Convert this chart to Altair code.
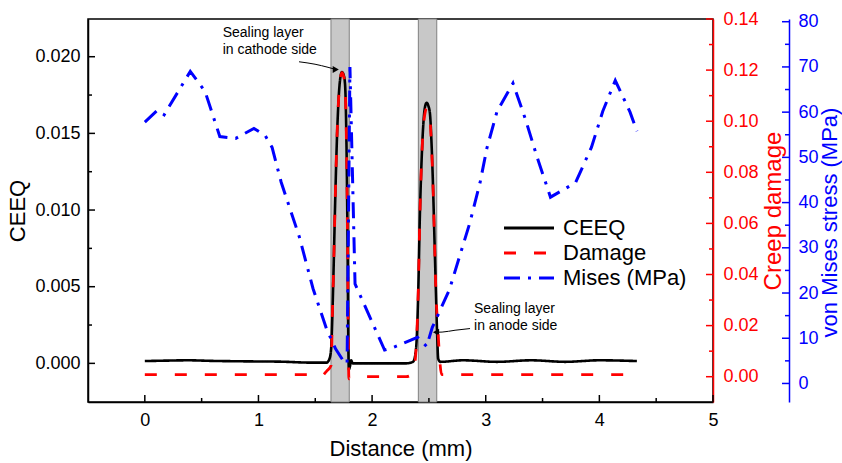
import altair as alt
import pandas as pd

FONT = "Liberation Sans"
W, H = 625, 383          # plot area
MISES_OFFSET = 76        # second right axis offset

# ---------------- data ----------------
series_names = ["CEEQ", "Damage", "Mises (MPa)"]
series_colors = ["#000000", "#ff0000", "#0000ff"]
series_dashes = [[1, 0], [12, 18], [16, 8, 3, 8]]

# CEEQ (left axis) : (distance mm, value)
ceeq_points = [
    (0.0, 0.00015), (0.2, 0.00018), (0.38, 0.0002), (0.6, 0.00016), (0.9, 0.00013),
    (1.2, 0.00011), (1.45, 0.00005), (1.60, 0.00005), (1.625, 0.0003), (1.64, 0.001),
    (1.65, 0.003), (1.66, 0.0058), (1.675, 0.0105), (1.69, 0.0145), (1.705, 0.0172),
    (1.72, 0.0186), (1.735, 0.0190), (1.75, 0.0188), (1.762, 0.0182), (1.772, 0.0155),
    (1.78, 0.0110), (1.786, 0.0060), (1.791, 0.0012), (1.796, -0.0004), (1.805, -0.0002),
    (1.815, 0.0002), (1.83, 0.0), (1.9, 0.0), (2.1, 0.0), (2.3, 0.0),
    (2.36, 0.0001), (2.385, 0.0008), (2.406, 0.0046), (2.42, 0.0095), (2.436, 0.0133),
    (2.45, 0.0155), (2.465, 0.0167), (2.48, 0.0170), (2.495, 0.0168), (2.509, 0.0163),
    (2.525, 0.0140), (2.538, 0.0111), (2.55, 0.0078), (2.562, 0.0046), (2.572, 0.0020),
    (2.582, 0.0003), (2.60, 0.0001), (2.8, 0.0002), (3.1, 0.0001), (3.4, 0.0002),
    (3.7, 0.0001), (4.0, 0.0002), (4.33, 0.00015),
]

# Creep damage (first right axis)
damage_points = [
    (0.0, 0.0008), (1.50, 0.0008), (1.552, 0.0002), (1.60, 0.0022), (1.64, 0.0045),
    (1.65, 0.0235), (1.66, 0.040), (1.675, 0.0685), (1.69, 0.0925), (1.705, 0.1085),
    (1.72, 0.1165), (1.735, 0.119), (1.75, 0.1175), (1.762, 0.1135), (1.772, 0.098),
    (1.78, 0.0715), (1.786, 0.0415), (1.791, 0.0125), (1.796, -0.0008), (1.81, -0.0005),
    (1.85, 0.0), (2.30, 0.0), (2.36, 0.0012), (2.385, 0.0095), (2.406, 0.033),
    (2.42, 0.062), (2.436, 0.085), (2.45, 0.097), (2.465, 0.103), (2.48, 0.105),
    (2.495, 0.1045), (2.509, 0.101), (2.525, 0.088), (2.538, 0.072), (2.55, 0.052),
    (2.562, 0.033), (2.58, 0.018), (2.597, 0.0055), (2.612, 0.0008), (4.33, 0.0008),
]

# von Mises stress (second right axis)
mises_points = [
    (0.0, 57.8), (0.11, 60.4), (0.17, 59.4), (0.40, 69.0), (0.53, 64.6),
    (0.66, 54.6), (0.80, 54.2), (0.96, 56.4), (1.06, 54.8), (1.12, 52.2),
    (1.20, 44.5), (1.36, 32.4), (1.48, 21.0), (1.60, 12.0), (1.68, 7.6),
    (1.765, 4.3), (1.78, 4.6), (1.805, 70.0), (1.85, 22.0), (2.11, 7.4),
    (2.18, 7.9), (2.40, 10.2), (2.48, 8.2), (2.53, 12.4), (2.68, 20.7),
    (2.86, 35.5), (2.95, 44.4), (3.01, 52.0), (3.10, 60.2), (3.24, 66.4),
    (3.35, 58.4), (3.45, 50.2), (3.57, 41.2), (3.79, 44.4), (3.93, 52.2),
    (4.03, 60.2), (4.14, 67.0), (4.27, 60.0), (4.33, 55.8),
]

# sealing layers (grey bands)
band_start = [1.638, 2.407]
band_end = [1.799, 2.569]

# annotations (distance, CEEQ units)
note_text = ["Sealing layer\nin cathode side", "Sealing layer\nin anode side"]
note_x = [0.685, 2.897]
note_y = [0.0220, 0.0040]

arrow_group = ["c", "c", "c", "c", "a", "a", "a", "a"]
arrow_x = [1.357, 1.498, 1.612, 1.68, 2.862, 2.730, 2.616, 2.563]
arrow_y = [0.01967, 0.01951, 0.01931, 0.01917, 0.00227, 0.00216, 0.00204, 0.00203]
head_right_x, head_right_y = [1.68], [0.01917]
head_left_x, head_left_y = [2.563], [0.00203]

# axis ticks (major carry labels, minor are short inward ticks)
x_major = [0, 1, 2, 3, 4, 5]
x_minor = [0.5, 1.5, 2.5, 3.5, 4.5]
ceeq_major = [0.0, 0.005, 0.010, 0.015, 0.020]
ceeq_minor = [0.0025, 0.0075, 0.0125, 0.0175]
damage_major = [0.0, 0.02, 0.04, 0.06, 0.08, 0.10, 0.12, 0.14]
damage_minor = [0.01, 0.03, 0.05, 0.07, 0.09, 0.11, 0.13]
mises_major = [0, 10, 20, 30, 40, 50, 60, 70, 80]
mises_minor = [5, 15, 25, 35, 45, 55, 65, 75]

MAJOR, MINOR = 7, 4

# ---------------- frames ----------------
def series_df(points, name):
    d = pd.DataFrame(points, columns=["x", "y"])
    d["series"] = name
    d["o"] = range(len(d))
    return d

ceeq_df = series_df(ceeq_points, "CEEQ")
damage_df = series_df(damage_points, "Damage")
mises_df = series_df(mises_points, "Mises (MPa)")
band_df = pd.DataFrame({"x0": band_start, "x1": band_end})
note_df = pd.DataFrame({"x": note_x, "y": note_y, "t": note_text})
arrow_df = pd.DataFrame({"x": arrow_x, "y": arrow_y, "g": arrow_group, "o": range(len(arrow_x))})
head_r_df = pd.DataFrame({"x": head_right_x, "y": head_right_y})
head_l_df = pd.DataFrame({"x": head_left_x, "y": head_left_y})

# ---------------- encodings ----------------
common_axis = dict(
    labelFont=FONT, titleFont=FONT, labelFontSize=18,
    titleFontWeight="normal", grid=False, labelOverlap=False, labelFlush=False,
    domainWidth=1.5, ticks=False, tickSize=0,
)

x_scale = alt.Scale(domain=[-0.5, 5], nice=False, zero=False)
x_axis = alt.Axis(
    values=x_major, format="d", labelPadding=9, titlePadding=9, titleFontSize=22,
    domainColor="black", labelColor="black", titleColor="black", **common_axis,
)


def X(field):
    return alt.X(f"{field}:Q", scale=x_scale, axis=x_axis, title="Distance (mm)")


y_ceeq = alt.Y(
    "y:Q", title="CEEQ",
    scale=alt.Scale(domain=[-0.00252, 0.02246], nice=False, zero=False),
    axis=alt.Axis(
        orient="left", values=ceeq_major, format=".3f", labelPadding=8, titlePadding=5,
        titleFontSize=22, domainColor="black", labelColor="black", titleColor="black",
        **common_axis,
    ),
)

y_damage = alt.Y(
    "y:Q", title="Creep damage",
    scale=alt.Scale(domain=[-0.0099, 0.14], nice=False, zero=False),
    axis=alt.Axis(
        orient="right", values=damage_major, format=".2f", labelPadding=10, titlePadding=3,
        titleFontSize=24, titleAngle=270, titleBaseline="top",
        domainColor="#ff0000", labelColor="#ff0000", titleColor="#ff0000", **common_axis,
    ),
)

y_mises = alt.Y(
    "y:Q", title="von Mises stress (MPa)",
    scale=alt.Scale(domain=[-4.1, 80.6], nice=False, zero=False),
    axis=alt.Axis(
        orient="right", offset=MISES_OFFSET, values=mises_major, format="d",
        labelPadding=9, titlePadding=1, titleFontSize=22, titleAngle=270, titleBaseline="top",
        titleY=203,
        domainColor="#0000ff", labelColor="#0000ff", titleColor="#0000ff", **common_axis,
    ),
)

legend = alt.Legend(
    title=None, orient="none", legendX=427, legendY=195, padding=0,
    labelFont=FONT, labelFontSize=22, labelColor="black",
    symbolType="M-2,0L2,0", symbolSize=625, symbolStrokeWidth=3,
    labelOffset=20, rowPadding=0,
)
color = alt.Color("series:N", scale=alt.Scale(domain=series_names, range=series_colors), legend=legend)
dash = alt.StrokeDash("series:N", scale=alt.Scale(domain=series_names, range=series_dashes), legend=legend)


def y_ticks(values, y_enc, x_edge, length, col, inward_sign):
    df = pd.DataFrame({"y": values})
    return alt.Chart(df).mark_rule(color=col, strokeWidth=1.5).encode(
        y=y_enc, x=alt.value(x_edge), x2=alt.value(x_edge + inward_sign * length)
    )


def x_ticks(values, length):
    df = pd.DataFrame({"x": values})
    return alt.Chart(df).mark_rule(color="black", strokeWidth=1.5).encode(
        x=X("x"), y=alt.value(H), y2=alt.value(H - length)
    )


# ---------------- layers ----------------
bands = alt.Chart(band_df).mark_rect(fill="#c8c8c8", stroke="#808080", strokeWidth=1).encode(
    x=X("x0"), x2="x1:Q"
)

ceeq_line = alt.Chart(ceeq_df).mark_line(strokeWidth=2.6, interpolate="monotone").encode(
    x=X("x"), y=y_ceeq, color=color, strokeDash=dash, order="o:Q"
)
notes = alt.Chart(note_df).mark_text(
    align="left", baseline="top", fontSize=14, lineBreak="\n", lineHeight=16.5,
    font=FONT, color="black",
).encode(x=X("x"), y=y_ceeq, text="t:N")
arrows = alt.Chart(arrow_df).mark_line(color="black", strokeWidth=1, interpolate="monotone").encode(
    x=X("x"), y=y_ceeq, detail="g:N", order="o:Q"
)
head_r = alt.Chart(head_r_df).mark_point(shape="triangle-right", filled=True, size=50, color="black", opacity=1).encode(
    x=X("x"), y=y_ceeq
)
head_l = alt.Chart(head_l_df).mark_point(shape="triangle-left", filled=True, size=50, color="black", opacity=1).encode(
    x=X("x"), y=y_ceeq
)
ceeq_group = alt.layer(
    ceeq_line,
    y_ticks(ceeq_major, y_ceeq, 0, MAJOR, "black", 1),
    y_ticks(ceeq_minor, y_ceeq, 0, MINOR, "black", 1),
    arrows, head_r, head_l, notes,
)

damage_line = alt.Chart(damage_df).mark_line(strokeWidth=2.8, interpolate="monotone").encode(
    x=X("x"), y=y_damage, color=color, strokeDash=dash, order="o:Q"
)
damage_group = alt.layer(
    damage_line,
    y_ticks(damage_major, y_damage, W, MAJOR, "#ff0000", -1),
    y_ticks(damage_minor, y_damage, W, MINOR, "#ff0000", -1),
)

mises_line = alt.Chart(mises_df).mark_line(strokeWidth=3).encode(
    x=X("x"), y=y_mises, color=color, strokeDash=dash, order="o:Q"
)
mises_group = alt.layer(
    mises_line,
    y_ticks(mises_major, y_mises, W + MISES_OFFSET, MAJOR, "#0000ff", -1),
    y_ticks(mises_minor, y_mises, W + MISES_OFFSET, MINOR, "#0000ff", -1),
)

chart = (
    alt.layer(bands, x_ticks(x_major, MAJOR), x_ticks(x_minor, MINOR),
              ceeq_group, damage_group, mises_group)
    .resolve_scale(y="independent")
    .properties(
        width=W, height=H,
        autosize=alt.AutoSizeParams(type="none"),
        padding={"left": 88, "top": 19, "right": 129, "bottom": 61},
        background="white",
    )
    .configure_view(stroke="black", strokeWidth=1.5)
)

chart.save("out.html", embed_options={"renderer": "svg", "actions": False})
